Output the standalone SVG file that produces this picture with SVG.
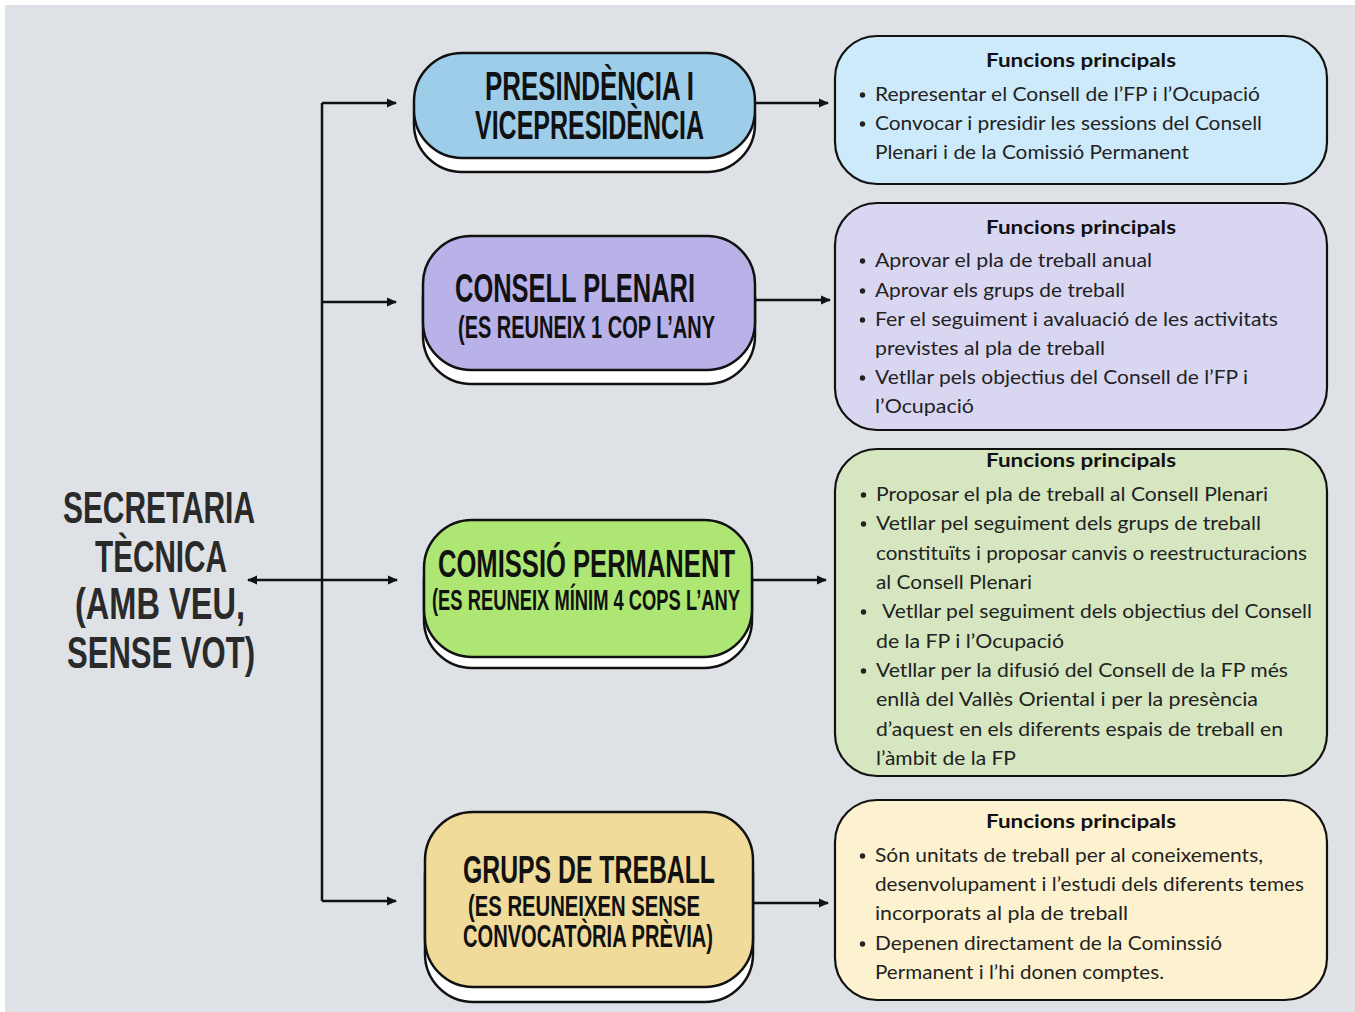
<svg xmlns="http://www.w3.org/2000/svg" width="1355" height="1012" viewBox="0 0 1355 1012">
<defs>
<marker id="ah" viewBox="0 0 10 10" refX="9" refY="5" markerWidth="10" markerHeight="10" markerUnits="userSpaceOnUse" orient="auto-start-reverse">
<path d="M0,0.5 L10,5 L0,9.5 z" fill="#111"/>
</marker>
<style>
.conn{stroke:#111;stroke-width:2.5;fill:none}
.shadow{fill:#ffffff;stroke:#111;stroke-width:2.5}
.node{stroke:#111;stroke-width:2.5}
.box{stroke:#111;stroke-width:2.2}
.ttl{font-family:"Liberation Sans",Arial,sans-serif;font-weight:bold;fill:#111}
.sec{font-family:"Liberation Sans",Arial,sans-serif;font-weight:bold;fill:#2a2a2a}
.hd{font-family:Lato,"Open Sans",sans-serif;font-weight:bold;font-size:19px;fill:#111}
.bd{font-family:Lato,"Open Sans",sans-serif;font-size:19px;fill:#222}
.dot{fill:#222}
</style>
</defs>
<rect x="0" y="0" width="1355" height="1012" fill="#ffffff"/>
<rect x="5" y="5" width="1350" height="1007" fill="#dee2e6"/>

<g id="connectors">
<line class="conn" x1="322" y1="103" x2="322" y2="901"/>
<line class="conn" x1="322" y1="103" x2="396" y2="103" marker-end="url(#ah)"/>
<line class="conn" x1="322" y1="302" x2="396" y2="302" marker-end="url(#ah)"/>
<line class="conn" x1="248" y1="580" x2="397" y2="580" marker-start="url(#ah)" marker-end="url(#ah)"/>
<line class="conn" x1="322" y1="901" x2="396" y2="901" marker-end="url(#ah)"/>
<line class="conn" x1="755" y1="103" x2="828" y2="103" marker-end="url(#ah)"/>
<line class="conn" x1="756" y1="300" x2="830" y2="300" marker-end="url(#ah)"/>
<line class="conn" x1="752" y1="580" x2="826" y2="580" marker-end="url(#ah)"/>
<line class="conn" x1="753" y1="903" x2="828" y2="903" marker-end="url(#ah)"/>
</g>

<g id="secretaria">
<text class="sec" font-size="45" x="63" y="523" textLength="192" lengthAdjust="spacingAndGlyphs">SECRETARIA</text>
<text class="sec" font-size="45" x="95" y="572" textLength="132" lengthAdjust="spacingAndGlyphs">TÈCNICA</text>
<text class="sec" font-size="45" x="75" y="619" textLength="170" lengthAdjust="spacingAndGlyphs">(AMB VEU,</text>
<text class="sec" font-size="45" x="67" y="668" textLength="188" lengthAdjust="spacingAndGlyphs">SENSE VOT)</text>
</g>

<g id="presidencia">
<rect class="shadow" x="414" y="67" width="341" height="105" rx="48"/>
<rect class="node" x="414" y="53" width="341" height="105" rx="48" fill="#9dcde9"/>
<text class="ttl" font-size="41" x="485" y="100" textLength="209" lengthAdjust="spacingAndGlyphs">PRESINDÈNCIA I</text>
<text class="ttl" font-size="41" x="475" y="139" textLength="229" lengthAdjust="spacingAndGlyphs">VICEPRESIDÈNCIA</text>
</g>

<g id="consell-plenari">
<rect class="shadow" x="423" y="250" width="332" height="134" rx="48"/>
<rect class="node" x="423" y="236" width="332" height="134" rx="48" fill="#b9b2e8"/>
<text class="ttl" font-size="40" x="455" y="302" textLength="240" lengthAdjust="spacingAndGlyphs">CONSELL PLENARI</text>
<text class="ttl" font-size="32" x="458" y="338" textLength="257" lengthAdjust="spacingAndGlyphs">(ES REUNEIX 1 COP L’ANY</text>
</g>

<g id="comissio-permanent">
<rect class="shadow" x="424" y="532" width="328" height="136" rx="48"/>
<rect class="node" x="424" y="520" width="328" height="137" rx="48" fill="#ade672"/>
<text class="ttl" font-size="38" x="438" y="577" textLength="297" lengthAdjust="spacingAndGlyphs">COMISSIÓ PERMANENT</text>
<text class="ttl" font-size="30" x="432" y="610" textLength="308" lengthAdjust="spacingAndGlyphs">(ES REUNEIX MÍNIM 4 COPS L’ANY</text>
</g>

<g id="grups-de-treball">
<rect class="shadow" x="425" y="827" width="328" height="175" rx="48"/>
<rect class="node" x="425" y="812" width="328" height="175" rx="48" fill="#f0db9a"/>
<text class="ttl" font-size="39" x="463" y="883" textLength="252" lengthAdjust="spacingAndGlyphs">GRUPS DE TREBALL</text>
<text class="ttl" font-size="29" x="468" y="916" textLength="232" lengthAdjust="spacingAndGlyphs">(ES REUNEIXEN SENSE</text>
<text class="ttl" font-size="31" x="463" y="947" textLength="250" lengthAdjust="spacingAndGlyphs">CONVOCATÒRIA PRÈVIA)</text>
</g>

<g id="funcions-presidencia">
<rect class="box" x="835" y="36" width="492" height="148" rx="42" fill="#cdeafa"/>
<text class="hd" x="986" y="67" textLength="190" lengthAdjust="spacingAndGlyphs">Funcions principals</text>
<circle class="dot" cx="862.5" cy="95" r="2.7"/>
<text class="bd" x="875" y="101" textLength="385" lengthAdjust="spacingAndGlyphs">Representar el Consell de l’FP i l’Ocupació</text>
<circle class="dot" cx="862.5" cy="124" r="2.7"/>
<text class="bd" x="875" y="130" textLength="387" lengthAdjust="spacingAndGlyphs">Convocar i presidir les sessions del Consell</text>
<text class="bd" x="875" y="159" textLength="314" lengthAdjust="spacingAndGlyphs">Plenari i de la Comissió Permanent</text>
</g>

<g id="funcions-consell">
<rect class="box" x="835" y="203" width="492" height="227" rx="42" fill="#d9d6f2"/>
<text class="hd" x="986" y="234" textLength="190" lengthAdjust="spacingAndGlyphs">Funcions principals</text>
<circle class="dot" cx="862.5" cy="261" r="2.7"/>
<text class="bd" x="875" y="267" textLength="277" lengthAdjust="spacingAndGlyphs">Aprovar el pla de treball anual</text>
<circle class="dot" cx="862.5" cy="291" r="2.7"/>
<text class="bd" x="875" y="297" textLength="250" lengthAdjust="spacingAndGlyphs">Aprovar els grups de treball</text>
<circle class="dot" cx="862.5" cy="320" r="2.7"/>
<text class="bd" x="875" y="326" textLength="403" lengthAdjust="spacingAndGlyphs">Fer el seguiment i avaluació de les activitats</text>
<text class="bd" x="875" y="355" textLength="230" lengthAdjust="spacingAndGlyphs">previstes al pla de treball</text>
<circle class="dot" cx="862.5" cy="378" r="2.7"/>
<text class="bd" x="875" y="384" textLength="373" lengthAdjust="spacingAndGlyphs">Vetllar pels objectius del Consell de l’FP i</text>
<text class="bd" x="875" y="413" textLength="99" lengthAdjust="spacingAndGlyphs">l’Ocupació</text>
</g>

<g id="funcions-comissio">
<rect class="box" x="835" y="449" width="492" height="327" rx="42" fill="#d5e6c0"/>
<text class="hd" x="986" y="467" textLength="190" lengthAdjust="spacingAndGlyphs">Funcions principals</text>
<circle class="dot" cx="863.5" cy="495" r="2.7"/>
<text class="bd" x="876" y="501" textLength="392" lengthAdjust="spacingAndGlyphs">Proposar el pla de treball al Consell Plenari</text>
<circle class="dot" cx="863.5" cy="524" r="2.7"/>
<text class="bd" x="876" y="530" textLength="385" lengthAdjust="spacingAndGlyphs">Vetllar pel seguiment dels grups de treball</text>
<text class="bd" x="876" y="560" textLength="431" lengthAdjust="spacingAndGlyphs">constituïts i proposar canvis o reestructuracions</text>
<text class="bd" x="876" y="589" textLength="156" lengthAdjust="spacingAndGlyphs">al Consell Plenari</text>
<circle class="dot" cx="863.5" cy="612" r="2.7"/>
<text class="bd" x="882" y="618" textLength="430" lengthAdjust="spacingAndGlyphs">Vetllar pel seguiment dels objectius del Consell</text>
<text class="bd" x="876" y="648" textLength="188" lengthAdjust="spacingAndGlyphs">de la FP i l’Ocupació</text>
<circle class="dot" cx="863.5" cy="671" r="2.7"/>
<text class="bd" x="876" y="677" textLength="412" lengthAdjust="spacingAndGlyphs">Vetllar per la difusió del Consell de la FP més</text>
<text class="bd" x="876" y="706" textLength="382" lengthAdjust="spacingAndGlyphs">enllà del Vallès Oriental i per la presència</text>
<text class="bd" x="876" y="736" textLength="407" lengthAdjust="spacingAndGlyphs">d’aquest en els diferents espais de treball en</text>
<text class="bd" x="876" y="765" textLength="140" lengthAdjust="spacingAndGlyphs">l’àmbit de la FP</text>
</g>

<g id="funcions-grups">
<rect class="box" x="835" y="800" width="492" height="200" rx="42" fill="#fdf2cf"/>
<text class="hd" x="986" y="828" textLength="190" lengthAdjust="spacingAndGlyphs">Funcions principals</text>
<circle class="dot" cx="862.5" cy="856" r="2.7"/>
<text class="bd" x="875" y="862" textLength="388" lengthAdjust="spacingAndGlyphs">Són unitats de treball per al coneixements,</text>
<text class="bd" x="875" y="891" textLength="429" lengthAdjust="spacingAndGlyphs">desenvolupament i l’estudi dels diferents temes</text>
<text class="bd" x="875" y="920" textLength="253" lengthAdjust="spacingAndGlyphs">incorporats al pla de treball</text>
<circle class="dot" cx="862.5" cy="944" r="2.7"/>
<text class="bd" x="875" y="950" textLength="347" lengthAdjust="spacingAndGlyphs">Depenen directament de la Cominssió</text>
<text class="bd" x="875" y="979" textLength="289" lengthAdjust="spacingAndGlyphs">Permanent i l’hi donen comptes.</text>
</g>
</svg>
